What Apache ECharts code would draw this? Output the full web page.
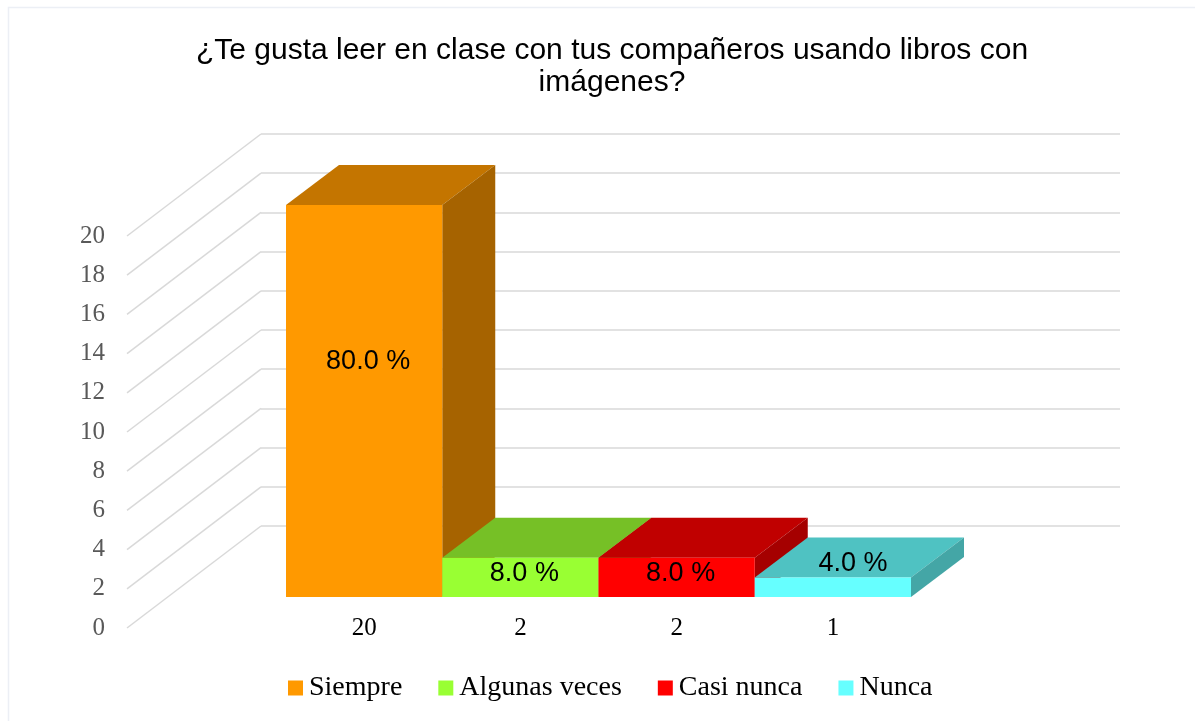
<!DOCTYPE html>
<html>
<head>
<meta charset="utf-8">
<script src="https://cdn.jsdelivr.net/npm/echarts@6/dist/echarts.min.js"></script>
<style>html,body{margin:0;padding:0;background:#fff}#c{width:1195px;height:721px}</style>
</head>
<body>
<div id="c"></div>
<script>
// ---- data ----
const categories = ['Siempre', 'Algunas veces', 'Casi nunca', 'Nunca'];
const values = [20, 2, 2, 1];
const countLabels = ['20', '2', '2', '1'];
const yTicks = [0, 2, 4, 6, 8, 10, 12, 14, 16, 18, 20];
const titleText = '¿Te gusta leer en clase con tus compañeros usando libros con\nimágenes?';

// ---- styles ----
const frontColors = ['#FF9900', '#99FF33', '#FF0000', '#66FFFF'];
const topColors   = ['#C47500', '#76C026', '#C00000', '#4FC2C2'];
const sideColors  = ['#A66300', '#63A421', '#A50000', '#44A6A6'];
const FLOOR_DEPTH = [134, -102];  // px, front edge -> back wall
const BAR_DEPTH = [53, -40];      // px, bar front -> bar back
const GRID_COLOR = '#D9D9D9';
const total = values.reduce((a, b) => a + b, 0);

const chart = echarts.init(document.getElementById('c'), null, {renderer: 'canvas'});

function barRender(k) {
  return function (params, api) {
    const i = api.value(0), v = api.value(1);
    const p0 = api.coord([i, 0]);
    const p1 = api.coord([i + 1, v]);
    const x0 = p0[0], yb = p0[1], x1 = p1[0], yt = p1[1];
    const dx = BAR_DEPTH[0], dy = BAR_DEPTH[1];
    const h = yb - yt;
    const pct = (v / total * 100).toFixed(1) + ' %';
    let lx, ly;
    if (h >= 30) {
      lx = (x0 + x1) / 2 + 4;
      ly = yb - 0.6 * h;
    } else {
      lx = (x0 + x1) / 2 + dx * 0.38;
      ly = yt + dy * 0.35;
    }
    return {
      type: 'group',
      children: [
        {type: 'polygon', shape: {points: [[x0, yt], [x1, yt], [x1 + dx, yt + dy], [x0 + dx, yt + dy]]},
         style: {fill: topColors[k]}},
        {type: 'polygon', shape: {points: [[x1, yt], [x1, yb], [x1 + dx, yb + dy], [x1 + dx, yt + dy]]},
         style: {fill: sideColors[k]}},
        {type: 'rect', shape: {x: x0, y: yt, width: x1 - x0, height: h},
         style: {fill: frontColors[k]}},
        {type: 'text', style: {text: pct, x: lx, y: ly, align: 'center', verticalAlign: 'middle',
          fontFamily: 'Liberation Sans, Arial, sans-serif', fontSize: 27, fill: '#000'}}
      ]
    };
  };
}

const barSeries = categories.map((name, k) => ({
  name: name,
  type: 'custom',
  xAxisIndex: 1,
  yAxisIndex: 1,
  itemStyle: {color: frontColors[k]},
  data: [[k, values[k]]],
  renderItem: barRender(k),
  z: 5
}));

const option = {
  backgroundColor: '#fff',
  animation: false,
  title: {
    text: titleText,
    left: 607,
    top: 30,
    textAlign: 'center',
    textStyle: {fontFamily: 'Liberation Sans, Arial, sans-serif', fontSize: 30, fontWeight: 'normal',
      color: '#000', lineHeight: 32}
  },
  legend: {
    data: categories,
    left: 283,
    top: 669,
    icon: 'rect',
    itemWidth: 15,
    itemHeight: 15,
    itemGap: 36,
    selectedMode: false,
    textStyle: {fontFamily: 'Liberation Serif, Times New Roman, serif', fontSize: 28, color: '#000', padding: [0, 0, 0, 1]}
  },
  graphic: [{
    type: 'rect', silent: true, z: -10,
    shape: {x: 8.5, y: 7.5, width: 1300, height: 1000},
    style: {fill: 'none', stroke: '#ECEFF5', lineWidth: 1.5}
  }],
  grid: [
    {left: 127, top: 236, bottom: 93, right: 209},   // front floor edge (y labels)
    {left: 286, top: 205, bottom: 124, right: 284},  // bar front plane
    {left: 261, top: 134, bottom: 195, right: 75}    // back wall
  ],
  xAxis: [
    {gridIndex: 0, type: 'value', min: 0, max: 1, show: false},
    {gridIndex: 1, type: 'value', min: 0, max: 4, show: false},
    {gridIndex: 1, type: 'category', data: countLabels, position: 'bottom', boundaryGap: true,
     axisLine: {show: false}, axisTick: {show: false},
     axisLabel: {margin: 19, fontFamily: 'Liberation Serif, Times New Roman, serif', fontSize: 25, color: '#000'}},
    {gridIndex: 2, type: 'value', min: 0, max: 1, show: false}
  ],
  yAxis: [
    {gridIndex: 0, type: 'value', min: 0, max: 20, interval: 2,
     axisLine: {show: false}, axisTick: {show: false}, splitLine: {show: false},
     axisLabel: {margin: 22, fontFamily: 'Liberation Serif, Times New Roman, serif', fontSize: 25, color: '#595959'}},
    {gridIndex: 1, type: 'value', min: 0, max: 20, show: false},
    {gridIndex: 2, type: 'value', min: 0, max: 20, interval: 2,
     axisLine: {show: false}, axisTick: {show: false}, axisLabel: {show: false},
     splitLine: {show: true, lineStyle: {color: GRID_COLOR, width: 1.5}}}
  ],
  series: [
    {
      type: 'custom',
      xAxisIndex: 0,
      yAxisIndex: 0,
      silent: true,
      data: yTicks.map(v => [0, v]),
      renderItem: function (params, api) {
        const p = api.coord([api.value(0), api.value(1)]);
        return {type: 'line', shape: {x1: p[0], y1: p[1], x2: p[0] + FLOOR_DEPTH[0], y2: p[1] + FLOOR_DEPTH[1]},
          style: {stroke: GRID_COLOR, lineWidth: 1.5}};
      },
      z: 1
    }
  ].concat(barSeries)
};
chart.setOption(option);
</script>
</body>
</html>
